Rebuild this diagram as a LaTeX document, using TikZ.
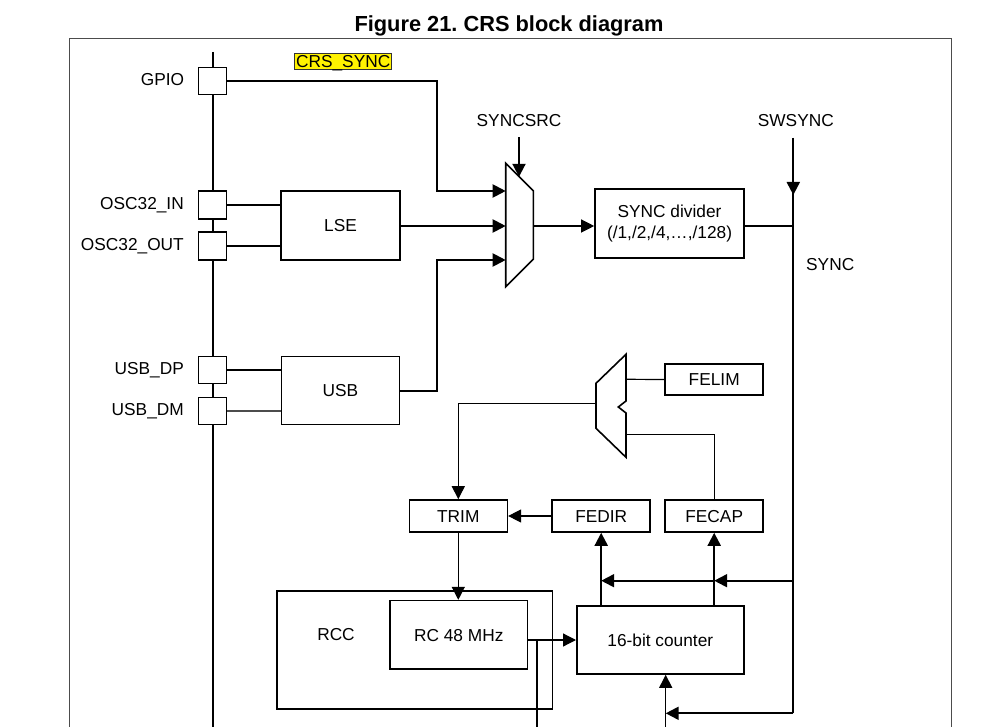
\documentclass[tikz,border=0pt]{standalone}
\usepackage{fontspec}
\setmainfont{Liberation Sans}
\usetikzlibrary{arrows.meta}

\begin{document}
\begin{tikzpicture}[x = 1pt, y = -1pt,
  font = \fontsize{17.3}{20.3}\selectfont,
  >= {Triangle[length = 13pt, width = 13pt]},
  wire/.style = {line width = 2pt},
  fine/.style = {line width = 1.2pt},
  box/.style = {draw, line width = 1.6pt, fill = white, inner sep = 0pt},
  pad/.style = {draw, line width = 1.8pt, fill = white, minimum width = 28pt, minimum height = 27pt, inner sep = 0pt},
  tag/.style = {inner sep = 0pt, text height = 12.4pt, text depth = 0pt},
  pin/.style = {tag, anchor = east}]
\useasboundingbox (0, 0) rectangle (999, 727);
\node [font = \fontsize{21.8}{24}\selectfont\bfseries, anchor = base] (title) at (509, 31.7) {Figure 21.\ CRS block diagram};
\draw [line width = 1pt, black!70] (69, 727) -- (69, 39) -- (951, 39) -- (951, 727);

\coordinate (bustop) at (212.5, 52);
\coordinate (busend) at (212.5, 727);
\draw [wire] (bustop) -- (busend);
\node [pad] (gpio) at (212.5, 81) {};
\node [pad, minimum height = 28pt] (oscin) at (212.5, 205) {};
\node [pad, minimum height = 28pt] (oscout) at (212.5, 246) {};
\node [pad] (dp) at (212.5, 370) {};
\node [pad] (dm) at (212.5, 411) {};
\node [pin] (gpiolbl) at (184.3, 79.7) {GPIO};
\node [pin] (oscinlbl) at (184, 203) {OSC32\_IN};
\node [pin] (oscoutlbl) at (184, 244.7) {OSC32\_OUT};
\node [pin] (dplbl) at (184, 367.8) {USB\_DP};
\node [pin] (dmlbl) at (184, 409.5) {USB\_DM};
\node [tag, fill = yellow, draw = black!80, line width = 0.8pt, inner xsep = 1.5pt, inner ysep = 1.8pt] (crs) at (343.2, 61.3) {CRS\_SYNC};

\node [box, tag, minimum width = 119pt, minimum height = 69pt] (lse) at (340.5, 225.5) {LSE};
\node [box, tag, minimum width = 118pt, minimum height = 68pt] (usb) at (340.5, 390.5) {USB};
\draw [wire] (oscin.east) -- (lse.west |- oscin.east);
\draw [wire] (oscout.east) -- (lse.west |- oscout.east);
\draw [wire] (dp.east) -- (usb.west |- dp.east);
\draw [fine, black!70] (dm.east) -- (usb.west |- dm.east);

\draw [line width = 1.6pt] (505.7, 163.3) -- (533.3, 190.7) -- (533.3, 259.3) -- (505.7, 286.7) -- cycle;
\coordinate (in1) at (505.7, 191);
\coordinate (in2) at (505.7, 226);
\coordinate (in3) at (505.7, 260);
\coordinate (sel) at (519, 176.8);
\coordinate (muxout) at (533.3, 226);
\coordinate (jog) at (437, 226);
\draw [wire, ->] (gpio.east) -| (jog |- in1) -- (in1);
\draw [wire, ->] (lse.east |- in2) -- (in2);
\draw [wire, ->] (usb.east) -| (jog |- in3) -- (in3);
\node [tag] (syncsrc) at (519, 120) {SYNCSRC};
\draw [wire, ->] ([yshift = -11pt] syncsrc.south) -- (sel);

\node [box, minimum width = 149pt, minimum height = 68.5pt, align = center] (div) at (669.5, 223.5) {SYNC divider\\(/1,/2,/4,…,/128)};
\draw [fine, ->] (muxout) -- (muxout -| div.west);
\node [tag] (swsync) at (795.8, 120) {SWSYNC};
\node [tag, anchor = west] (sync) at (806, 264.5) {SYNC};
\coordinate (synctop) at (793.3, 138);
\coordinate (syncbot) at (793.3, 713.3);
\coordinate (tap) at (793.3, 580.7);
\coordinate (cntin) at (665.7, 727);
\draw [fine] (div.east |- muxout) -- (synctop |- muxout);
\draw [wire] (synctop) -- (syncbot);
\draw [wire, ->] (synctop) -- ++(0, 57);

\draw [line width = 1.6pt] (596, 383.3) -- (626, 354.3) -- (626, 401) -- (618.3, 407) -- (626, 413) -- (626, 457.3) -- (596, 428.3) -- cycle;
\coordinate (m2lim) at (626, 379.3);
\coordinate (m2cap) at (626, 434.3);
\coordinate (m2out) at (596, 403.3);
\node [box, tag, minimum width = 98pt, minimum height = 31pt] (felim) at (714.2, 379.5) {FELIM};
\node [box, tag, minimum width = 98pt, minimum height = 32pt] (trim) at (458.3, 516) {TRIM};
\node [box, tag, minimum width = 98pt, minimum height = 32pt] (fedir) at (601.2, 516) {FEDIR};
\node [box, tag, minimum width = 98pt, minimum height = 32pt] (fecap) at (714.2, 516) {FECAP};
\draw [fine] (felim.west) -- (m2lim);
\draw [fine] (fecap.north) |- (m2cap);
\draw [fine, ->] (m2out) -| (trim.north);
\draw [fine, ->] (fedir.west) -- (trim.east);

\node [box, minimum width = 275.6pt, minimum height = 118pt] (rcc) at (414.5, 649.7) {};
\node [tag] (rcclbl) at (336, 634) {RCC};
\node [box, tag, minimum width = 137.7pt, minimum height = 68.3pt] (rc) at (458.8, 634.8) {RC 48 MHz};
\node [box, tag, minimum width = 167pt, minimum height = 68pt] (cnt) at (660.3, 640) {16-bit counter};
\draw [fine, ->] (trim.south) -- (trim.south |- rc.north);
\draw [fine, ->] (rc.east |- cnt.west) -- (cnt.west);
\coordinate (rcjoin) at (537.3, 640);
\coordinate (rcend) at (537.3, 727);
\draw [wire] (rcjoin) -- (rcend);
\draw [fine, ->] (cntin) -- (cntin |- cnt.south);
\draw [wire, ->] (syncbot) -- (cntin |- syncbot);
\draw [wire, ->] (tap) -- (tap -| fecap);
\draw [wire, ->] (tap -| fecap) -- (tap -| fedir);
\draw [wire, ->] (cnt.north -| fedir) -- (fedir.south);
\draw [wire, ->] (cnt.north -| fecap) -- (fecap.south);
\end{tikzpicture}
\end{document}
